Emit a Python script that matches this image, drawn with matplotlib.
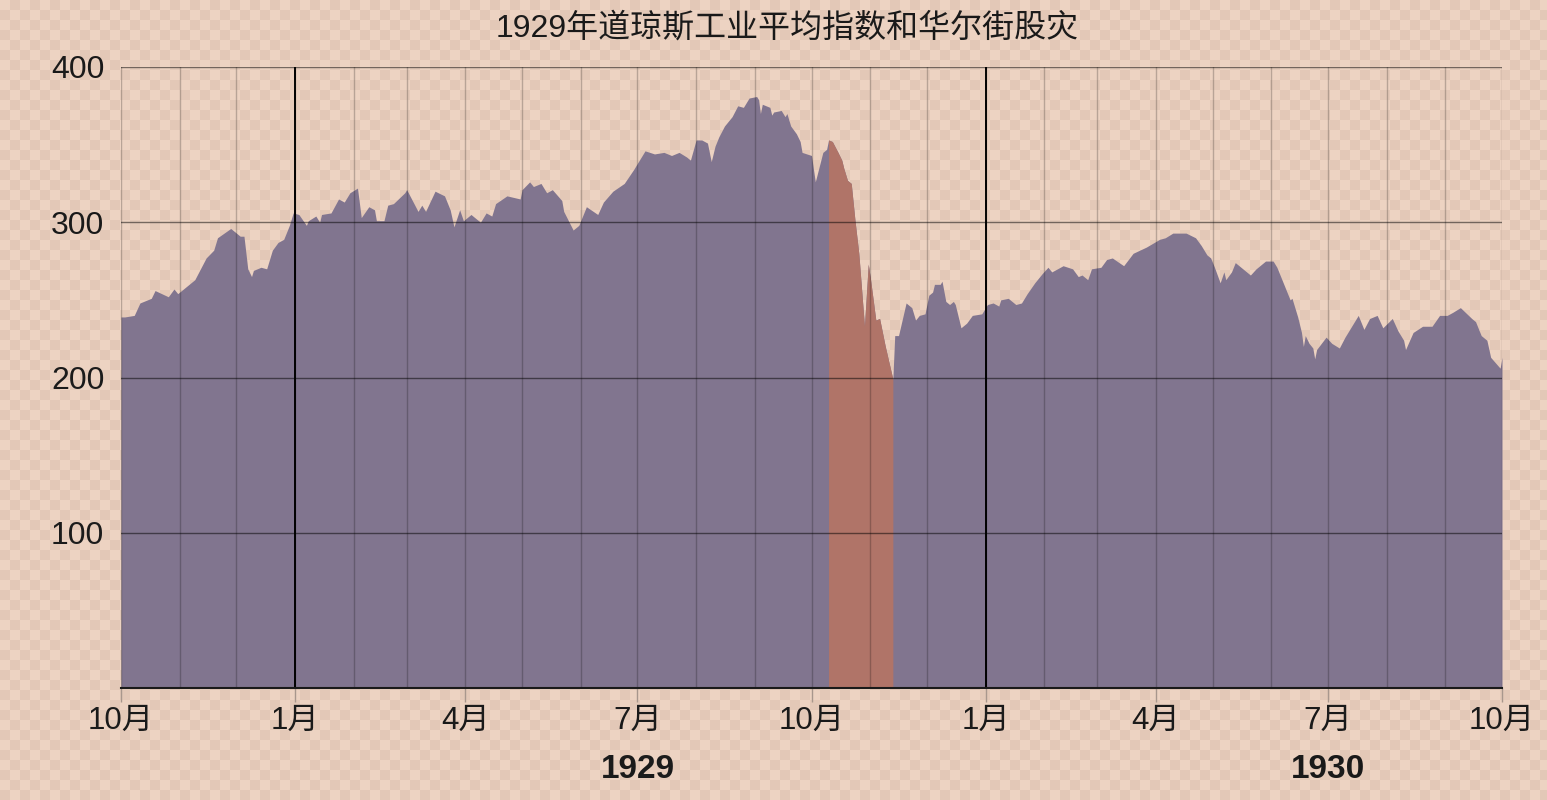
import matplotlib.pyplot as plt
import matplotlib.dates as mdates
from matplotlib.colors import ListedColormap
from matplotlib.ticker import FuncFormatter
import numpy as np
import pandas as pd

title = "1929年道琼斯工业平均指数和华尔街股灾"

dates = [
    "1928-10-01", "1928-10-03", "1928-10-08", "1928-10-11", "1928-10-17", "1928-10-19",
    "1928-10-26", "1928-10-29", "1928-10-31", "1928-11-09", "1928-11-15", "1928-11-19",
    "1928-11-21", "1928-11-28", "1928-12-03", "1928-12-05", "1928-12-07", "1928-12-09",
    "1928-12-10", "1928-12-14", "1928-12-17", "1928-12-20", "1928-12-23", "1928-12-26",
    "1928-12-29", "1928-12-31", "1929-01-03", "1929-01-07", "1929-01-08", "1929-01-12",
    "1929-01-14", "1929-01-15", "1929-01-20", "1929-01-24", "1929-01-27", "1929-01-30",
    "1929-02-03", "1929-02-05", "1929-02-09", "1929-02-12", "1929-02-13", "1929-02-17",
    "1929-02-19", "1929-02-22", "1929-02-28", "1929-03-01", "1929-03-07", "1929-03-09",
    "1929-03-11", "1929-03-16", "1929-03-21", "1929-03-24", "1929-03-26", "1929-03-29",
    "1929-03-31", "1929-04-04", "1929-04-09", "1929-04-12", "1929-04-15", "1929-04-17",
    "1929-04-23", "1929-04-30", "1929-05-01", "1929-05-05", "1929-05-07", "1929-05-11",
    "1929-05-14", "1929-05-17", "1929-05-22", "1929-05-23", "1929-05-28", "1929-05-31",
    "1929-06-04", "1929-06-10", "1929-06-13", "1929-06-18", "1929-06-24", "1929-06-29",
    "1929-07-02", "1929-07-05", "1929-07-10", "1929-07-15", "1929-07-19", "1929-07-23",
    "1929-07-27", "1929-07-29", "1929-08-01", "1929-08-04", "1929-08-07", "1929-08-09",
    "1929-08-11", "1929-08-13", "1929-08-16", "1929-08-20", "1929-08-23", "1929-08-26",
    "1929-08-29", "1929-09-02", "1929-09-03", "1929-09-04", "1929-09-05", "1929-09-09",
    "1929-09-10", "1929-09-11", "1929-09-15", "1929-09-17", "1929-09-18", "1929-09-20",
    "1929-09-23", "1929-09-25", "1929-09-26", "1929-10-01", "1929-10-03", "1929-10-07",
    "1929-10-09", "1929-10-10", "1929-10-12", "1929-10-15", "1929-10-17", "1929-10-18",
    "1929-10-20", "1929-10-22", "1929-10-24", "1929-10-26", "1929-10-29", "1929-10-31",
    "1929-11-01", "1929-11-04", "1929-11-06", "1929-11-09", "1929-11-13", "1929-11-14",
    "1929-11-16", "1929-11-20", "1929-11-23", "1929-11-25", "1929-11-27", "1929-11-30",
    "1929-12-02", "1929-12-04", "1929-12-05", "1929-12-08", "1929-12-09", "1929-12-11",
    "1929-12-13", "1929-12-15", "1929-12-16", "1929-12-19", "1929-12-22", "1929-12-25",
    "1929-12-30", "1930-01-02", "1930-01-05", "1930-01-08", "1930-01-09", "1930-01-13",
    "1930-01-17", "1930-01-20", "1930-01-23", "1930-01-27", "1930-01-31", "1930-02-03",
    "1930-02-05", "1930-02-11", "1930-02-16", "1930-02-19", "1930-02-21", "1930-02-24",
    "1930-02-26", "1930-03-03", "1930-03-06", "1930-03-09", "1930-03-15", "1930-03-20",
    "1930-03-27", "1930-04-03", "1930-04-06", "1930-04-10", "1930-04-17", "1930-04-22",
    "1930-04-25", "1930-04-28", "1930-04-30", "1930-05-02", "1930-05-05", "1930-05-07",
    "1930-05-08", "1930-05-11", "1930-05-13", "1930-05-17", "1930-05-21", "1930-05-24",
    "1930-05-29", "1930-06-02", "1930-06-04", "1930-06-09", "1930-06-11", "1930-06-12",
    "1930-06-15", "1930-06-17", "1930-06-18", "1930-06-19", "1930-06-21", "1930-06-23",
    "1930-06-24", "1930-06-25", "1930-06-30", "1930-07-03", "1930-07-07", "1930-07-10",
    "1930-07-14", "1930-07-17", "1930-07-20", "1930-07-23", "1930-07-27", "1930-07-30",
    "1930-08-04", "1930-08-07", "1930-08-10", "1930-08-11", "1930-08-15", "1930-08-20",
    "1930-08-25", "1930-08-29", "1930-09-02", "1930-09-05", "1930-09-09", "1930-09-15",
    "1930-09-17", "1930-09-20", "1930-09-23", "1930-09-25", "1930-09-30", "1930-10-01",
]

dji = [
    239, 239, 240, 248, 251, 256,
    252, 257, 254, 263, 277, 282,
    290, 296, 291, 291, 270, 265,
    269, 271, 270, 282, 287, 289,
    298, 306, 305, 298, 301, 304,
    300, 305, 306, 315, 313, 319,
    322, 303, 310, 308, 301, 301,
    311, 312, 319, 321, 307, 311,
    307, 320, 317, 308, 297, 308,
    301, 305, 300, 306, 304, 312,
    317, 315, 321, 326, 323, 325,
    319, 321, 314, 307, 295, 298,
    310, 305, 313, 320, 325, 334,
    340, 346, 344, 345, 343, 345,
    342, 340, 353, 353, 351, 339,
    349, 355, 362, 368, 375, 374,
    380, 381, 379, 370, 376, 374,
    369, 371, 372, 368, 370, 362,
    357, 352, 345, 343, 326, 345,
    347, 353, 352, 345, 340, 335,
    327, 325, 301, 280, 233, 273,
    265, 237, 238, 220, 199, 227,
    227, 248, 245, 237, 240, 241,
    253, 255, 260, 260, 262, 249,
    247, 249, 247, 232, 235, 240,
    241, 247, 248, 246, 250, 251,
    247, 248, 254, 261, 267, 271,
    268, 272, 270, 265, 266, 263,
    270, 271, 276, 277, 272, 280,
    284, 289, 290, 293, 293, 290,
    285, 279, 277, 271, 261, 268,
    263, 268, 274, 270, 266, 270,
    275, 275, 271, 256, 250, 251,
    239, 229, 220, 227, 222, 219,
    212, 218, 226, 222, 219, 226,
    234, 240, 231, 238, 240, 232,
    238, 230, 224, 218, 229, 233,
    233, 240, 240, 242, 245, 238,
    236, 227, 224, 213, 206, 213,
]

crash_start = "1929-10-10"
crash_end = "1929-11-13"
year_labels = ["1929", "1930"]
year_label_dates = ["1929-07-01", "1930-07-01"]
year_starts = ["1929-01-01", "1930-01-01"]
y_ticks = [100, 200, 300, 400]

plt.rcParams['font.family'] = ['Liberation Sans', 'Noto Sans CJK SC', 'DejaVu Sans']

W, H = 1547, 800
fig = plt.figure(figsize=(W / 100, H / 100), dpi=100)

# checkered background
bg = fig.add_axes([0, 0, 1, 1], zorder=-10)
ny, nx = 80, 155
checker = np.add.outer(np.arange(ny), np.arange(nx)) % 2
bg.imshow(checker, cmap=ListedColormap(["#EDD3C2", "#E3C8B7"]),
          interpolation="nearest", aspect="auto", extent=[0, nx * 10, ny * 10, 0])
bg.set_xlim(0, W)
bg.set_ylim(H, 0)
bg.axis("off")

ax = fig.add_axes([121 / W, (H - 688) / H, (1502 - 121) / W, (688 - 67) / H])
ax.patch.set_alpha(0)

x = pd.to_datetime(dates)
v = np.array(dji, dtype=float)
ax.fill_between(x, v, color="#81758F", lw=0, zorder=1)
mask = (x >= pd.Timestamp(crash_start)) & (x <= pd.Timestamp(crash_end))
ax.fill_between(x[mask], v[mask], color="#B07468", lw=0, zorder=1.1)

ax.set_xlim(pd.Timestamp("1928-10-01"), pd.Timestamp("1930-10-01"))
ax.set_ylim(0, 400)

ax.xaxis.set_major_locator(mdates.MonthLocator(bymonth=[1, 4, 7, 10]))
ax.xaxis.set_minor_locator(mdates.MonthLocator())
ax.xaxis.set_major_formatter(FuncFormatter(lambda val, pos: f"{mdates.num2date(val).month}月"))
ax.set_yticks(y_ticks)

ax.set_axisbelow(False)
ax.grid(which="both", axis="x", color="black", alpha=0.22, lw=1)
ax.grid(which="major", axis="y", color="black", alpha=0.5, lw=1)
for d in year_starts:
    ax.axvline(pd.Timestamp(d), color="black", lw=1.4, zorder=3)

for s in ["left", "right", "top"]:
    ax.spines[s].set_visible(False)
ax.spines["bottom"].set_color("#1a1a1a")
ax.spines["bottom"].set_linewidth(1.5)
ax.spines["bottom"].set_zorder(4)

ax.tick_params(axis="x", which="major", length=10, width=1, color="#a8978d",
               labelsize=22.5, pad=3, labelcolor="#1a1a1a")
ax.tick_params(axis="x", which="minor", length=0)
ax.tick_params(axis="y", length=0, labelsize=23, pad=12, labelcolor="#1a1a1a")
for lab in ax.get_yticklabels():
    lab.set_va("center_baseline")

fig.canvas.draw()
for tick in ax.xaxis.get_major_ticks():
    if mdates.num2date(tick.get_loc()).month == 1:
        tick.tick1line.set_color("black")

for lab, d in zip(year_labels, year_label_dates):
    ax.text(pd.Timestamp(d), -0.132, lab, transform=ax.get_xaxis_transform(),
            ha="center", va="center", fontsize=24, fontweight="bold", color="#1a1a1a")

fig.text(787 / W, 1 - 28 / H, title, ha="center", va="center", fontsize=23, color="#1a1a1a")

fig.savefig("out.png", dpi=100)
